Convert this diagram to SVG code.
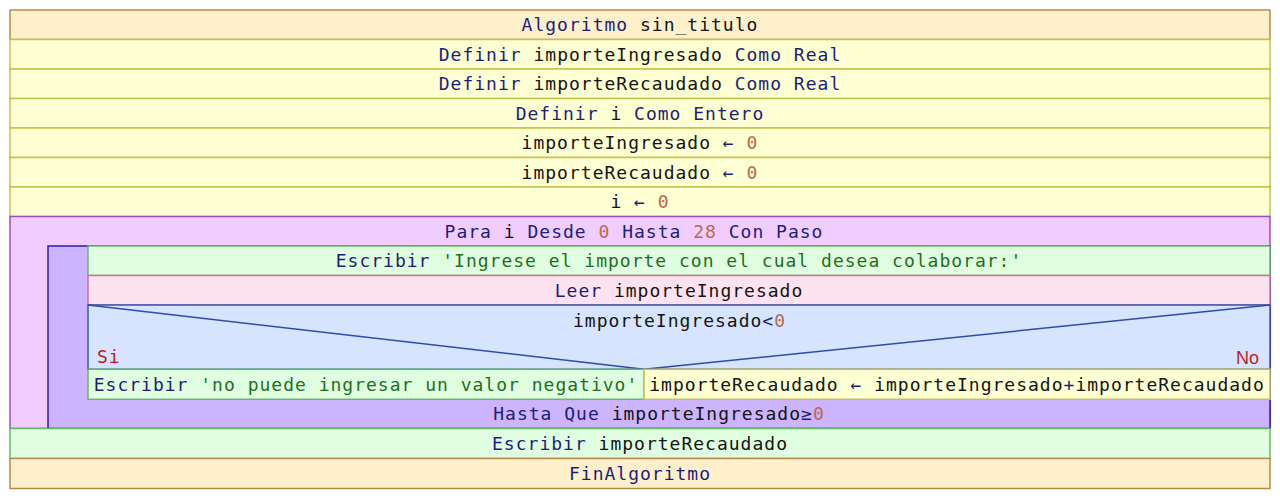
<svg xmlns="http://www.w3.org/2000/svg" width="1280" height="498" viewBox="0 0 1280 498">
<style>
text{font-family:"DejaVu Sans Mono","Liberation Mono",monospace;font-size:18px;letter-spacing:1px;text-anchor:middle}
.kw{fill:#1e1e78}.id{fill:#141414}.num{fill:#b86a4a}.str{fill:#1f6f1f}
rect,line{stroke-width:1.5}
.alg{fill:#fff0cc;stroke:#b88a4a}
.asg{fill:#ffffd4;stroke:#c2c24e}
.para{fill:#f0ccff;stroke:#9a50c0}
.rep{fill:#ccb4ff;stroke:#2c1ca8}
.out{fill:#e0ffe0;stroke:#66b866}
.inp{fill:#ffe2f0;stroke:#d07090}
.dec{fill:#d6e4ff;stroke:#3a56b0}
.diag{stroke:#2f4aa8;fill:none}
.lbl{fill:#c02020}
</style>
<rect width="1280" height="498" fill="#ffffff"/>
<g id="algoritmo">
<rect class="alg" x="10" y="10" width="1260" height="29.5"/>
<text x="640" y="31"><tspan class="kw">Algoritmo</tspan> <tspan class="id">sin_titulo</tspan></text>
</g>
<g id="def1">
<rect class="asg" x="10" y="39.5" width="1260" height="29.5"/>
<text x="640" y="60.5"><tspan class="kw">Definir</tspan> <tspan class="id">importeIngresado</tspan> <tspan class="kw">Como Real</tspan></text>
</g>
<g id="def2">
<rect class="asg" x="10" y="69" width="1260" height="29.5"/>
<text x="640" y="90"><tspan class="kw">Definir</tspan> <tspan class="id">importeRecaudado</tspan> <tspan class="kw">Como Real</tspan></text>
</g>
<g id="def3">
<rect class="asg" x="10" y="98.5" width="1260" height="29.5"/>
<text x="640" y="119.5"><tspan class="kw">Definir</tspan> <tspan class="id">i</tspan> <tspan class="kw">Como Entero</tspan></text>
</g>
<g id="asg1">
<rect class="asg" x="10" y="128" width="1260" height="29.5"/>
<text x="640" y="149"><tspan class="id">importeIngresado</tspan> <tspan class="kw">←</tspan> <tspan class="num">0</tspan></text>
</g>
<g id="asg2">
<rect class="asg" x="10" y="157.5" width="1260" height="29.5"/>
<text x="640" y="178.5"><tspan class="id">importeRecaudado</tspan> <tspan class="kw">←</tspan> <tspan class="num">0</tspan></text>
</g>
<g id="asg3">
<rect class="asg" x="10" y="187" width="1260" height="29.5"/>
<text x="640" y="208"><tspan class="id">i</tspan> <tspan class="kw">←</tspan> <tspan class="num">0</tspan></text>
</g>
<g id="para">
<rect class="para" x="10" y="216.5" width="1260" height="212"/>
<text x="634" y="237.5"><tspan class="kw">Para</tspan> <tspan class="id">i</tspan> <tspan class="kw">Desde</tspan> <tspan class="num">0</tspan> <tspan class="kw">Hasta</tspan> <tspan class="num">28</tspan> <tspan class="kw">Con Paso</tspan></text>
</g>
<g id="repetir">
<rect class="rep" x="48" y="246" width="1222" height="182.5"/>
<text x="659" y="420"><tspan class="kw">Hasta Que</tspan> <tspan class="id">importeIngresado</tspan><tspan class="kw">≥</tspan><tspan class="num">0</tspan></text>
</g>
<g id="escribir1">
<rect class="out" x="88" y="246" width="1182" height="29.5"/>
<text x="679" y="267"><tspan class="kw">Escribir</tspan> <tspan class="str">'Ingrese el importe con el cual desea colaborar:'</tspan></text>
</g>
<g id="leer">
<rect class="inp" x="88" y="275.5" width="1182" height="29.5"/>
<text x="679" y="296.5"><tspan class="kw">Leer</tspan> <tspan class="id">importeIngresado</tspan></text>
</g>
<g id="decision">
<rect class="dec" x="88" y="305" width="1182" height="64.3"/>
<line class="diag" x1="88" y1="305" x2="644" y2="369.3"/>
<line class="diag" x1="1270" y1="305" x2="644" y2="369.3"/>
<text x="679.5" y="327"><tspan class="id">importeIngresado</tspan><tspan class="kw">&lt;</tspan><tspan class="num">0</tspan></text>
<text class="lbl" x="97" y="363" style="text-anchor:start">Si</text>
<text class="lbl" x="1259" y="363.5" style="text-anchor:end;font-family:'Liberation Sans',Arial,sans-serif;letter-spacing:0;font-size:18px">No</text>
</g>
<g id="escribir_si">
<rect class="out" x="88" y="369.3" width="556" height="30"/>
<text x="366" y="390.5"><tspan class="kw">Escribir</tspan> <tspan class="str">'no puede ingresar un valor negativo'</tspan></text>
</g>
<g id="asg_no">
<rect class="asg" x="644" y="369.3" width="626" height="30"/>
<text x="957" y="390.5"><tspan class="id">importeRecaudado</tspan> <tspan class="kw">←</tspan> <tspan class="id">importeIngresado</tspan><tspan class="kw">+</tspan><tspan class="id">importeRecaudado</tspan></text>
</g>
<g id="escribir2">
<rect class="out" x="10" y="428.5" width="1260" height="30"/>
<text x="640" y="449.5"><tspan class="kw">Escribir</tspan> <tspan class="id">importeRecaudado</tspan></text>
</g>
<g id="finalgoritmo">
<rect class="alg" x="10" y="458.5" width="1260" height="30"/>
<text x="640" y="479.5"><tspan class="kw">FinAlgoritmo</tspan></text>
</g>
<g id="connectors"/>
</svg>
